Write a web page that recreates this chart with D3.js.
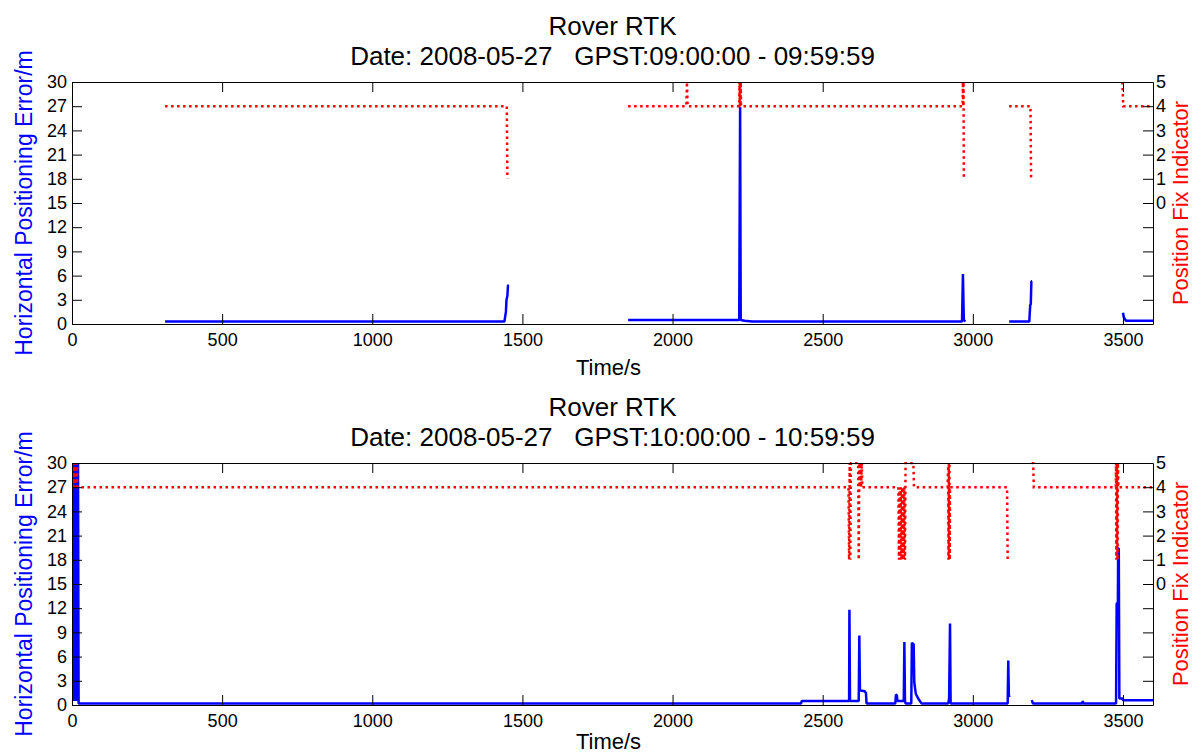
<!DOCTYPE html>
<html>
<head>
<meta charset="utf-8">
<script src="https://cdn.jsdelivr.net/npm/d3@7/dist/d3.min.js"></script>
<style>
    body { margin: 0; background: #fff; }
    svg { font-family: "Liberation Sans", Arial, sans-serif; }
    .axis path, .axis line { stroke: #000; stroke-width: 1; }
    .axis text { fill: #000; font-size: 18px; }
</style>
</head>
<body>
<svg id="chart" width="1192" height="755"></svg>
<script>
// DATA
var xTicks = [0, 500, 1000, 1500, 2000, 2500, 3000, 3500];
var errorTicks = [0, 3, 6, 9, 12, 15, 18, 21, 24, 27, 30];
var fixTicks = [-5, -4, -3, -2, -1, 0, 1, 2, 3, 4, 5];

var panelTitles = [
    "Date: 2008-05-27   GPST:09:00:00 - 09:59:59",
    "Date: 2008-05-27   GPST:10:00:00 - 10:59:59"
];

// 09:00 - 09:59, null = no data
var hour9ErrorTime  = [310, 1440, 1445, 1447, 1450, 1452, 1454, 1455, 1852, 2222, 2225, 2227, 2240, 2265, 2964, 2967, 2970, 2975, 2976, 3121, 3188, 3191, 3193, 3195, 3197, 3198, 3500, 3503, 3510, 3600];
var hour9ErrorValue = [0.3, 0.3, 1.5, 3.0, 3.5, 4.8, 4.8, null, 0.5, 0.5, 26.9, 0.5, 0.4, 0.3, 0.3, 6.2, 0.5, 0.3, null, 0.3, 0.3, 2.3, 2.5, 5.3, 5.3, null, 1.4, 0.8, 0.4, 0.4];
var hour9FixTime  = [310, 1448, 1450, 1451, 1852, 2046, 2048, 2050, 2222, 2223, 2224, 2225, 2226, 2227, 2228, 2966, 2967, 2968, 2969, 2970, 2971, 3121, 3192, 3194, 3195, 3498, 3501, 3600];
var hour9FixValue = [4, 4, 1, null, 4, 4, 5, 4, 4, 5, 4, 5, 4, 5, 4, 4, 5, 4, 5, 1, null, 4, 4, 1, null, 5, 4, 4];

// 10:00 - 10:59
var hour10ErrorTime  = [0, 2, 4, 6, 8, 10, 12, 14, 16, 18, 20, 22, 2428, 2430, 2588, 2589, 2591, 2620, 2622, 2624, 2626, 2640, 2644, 2646, 2742, 2744, 2747, 2749, 2770, 2772, 2774, 2776, 2795, 2797, 2803, 2805, 2810, 2818, 2829, 2918, 2921, 2924, 2926, 3116, 3118, 3120, 3124, 3125, 3196, 3200, 3364, 3366, 3368, 3477, 3479, 3483, 3484, 3486, 3488, 3498, 3500, 3600];
var hour10ErrorValue = [30, 0.5, 30, 0.5, 30, 0.5, 30, 0.5, 30, 0.5, 30, 0.2, 0.2, 0.5, 0.5, 11.8, 0.5, 0.5, 8.6, 2.0, 1.8, 1.7, 1.5, 0.2, 0.2, 1.3, 1.2, 0.5, 0.5, 7.8, 0.5, 0.2, 0.2, 7.7, 7.5, 2.8, 1.4, 0.8, 0.2, 0.2, 0.8, 10.1, 0.2, 0.2, 5.5, 1.1, 1.2, null, 0.6, 0.2, 0.2, 0.5, 0.2, 0.2, 12.6, 12.6, 19.4, 19.4, 0.8, 0.8, 0.6, 0.6];
var hour10FixTime  = [0, 2, 4, 6, 8, 10, 12, 14, 16, 18, 20, 2586, 2588, 2590, 2592, 2594, 2618, 2620, 2622, 2624, 2626, 2628, 2630, 2632, 2752, 2754, 2756, 2758, 2760, 2762, 2764, 2766, 2768, 2770, 2772, 2774, 2776, 2802, 2804, 2916, 2918, 2919, 2920, 2921, 2922, 2923, 2924, 3114, 3116, 3117, 3196, 3201, 3203, 3476, 3477, 3478, 3479, 3480, 3481, 3482, 3483, 3485, 3600];
var hour10FixValue = [5, 4, 5, 4, 5, 4, 5, 4, 5, 4, 4, 4, 1, 5, 1, 5, 5, 1, 5, 4, 5, 4, 5, 4, 4, 1, 4, 1, 4, 1, 4, 1, 4, 1, 4, 1, 5, 5, 4, 4, 5, 1, 5, 1, 5, 1, 4, 4, 1, null, 5, 5, 4, 4, 5, 1, 5, 1, 5, 1, 5, 4, 4];


// LAYOUT
var _left = 72, _right = 1153;
var _plotHeight = 242;
var _tickLength = 10;
var _pageHeight = 755;

var svg = d3.select("#chart");

var drawPanel = function(top, index, subtitle, errTime, errValue, fixTime, fixValue) {
    var bottom = top + _plotHeight;

    var x = d3.scaleLinear().domain([0, 3600]).range([_left, _right]);
    var yErr = d3.scaleLinear().domain([0, 30]).range([bottom, top]);
    var yFix = d3.scaleLinear().domain([-5, 5]).range([bottom, top]);

    var g = svg.append("g").classed("panel", true);

    g.append("rect")
        .attr("x", _left).attr("y", top)
        .attr("width", _right - _left).attr("height", _plotHeight)
        .attr("fill", "#fff");

    // clip the series to the box
    var clipId = "clip" + index;
    g.append("clipPath").attr("id", clipId)
        .append("rect")
        .attr("x", _left).attr("y", top - 1)
        .attr("width", _right - _left).attr("height", _plotHeight + 2);

    var errLine = d3.line()
        .defined(function(d) { return d[1] !== null; })
        .x(function(d) { return x(d[0]); })
        .y(function(d) { return yErr(d[1]); });

    var fixLine = d3.line()
        .defined(function(d) { return d[1] !== null; })
        .x(function(d) { return x(d[0]); })
        .y(function(d) { return yFix(d[1]); });

    var series = g.append("g").attr("clip-path", "url(#" + clipId + ")");

    series.append("path")
        .attr("d", errLine(d3.zip(errTime, errValue)))
        .attr("fill", "none")
        .attr("stroke", "#0000ff")
        .attr("stroke-width", 2.5)
        .attr("stroke-linejoin", "bevel");

    series.append("path")
        .attr("d", fixLine(d3.zip(fixTime, fixValue)))
        .attr("fill", "none")
        .attr("stroke", "#ff0000")
        .attr("stroke-width", 2.5)
        .attr("stroke-dasharray", "2.5,3.5");

    // axes
    g.append("g").classed("axis", true)
        .attr("transform", "translate(0," + bottom + ")")
        .call(d3.axisBottom(x).tickValues(xTicks).tickSize(-_tickLength).tickSizeOuter(0).tickPadding(9)
            .tickFormat(d3.format("d")));

    g.append("g").classed("axis", true)
        .attr("transform", "translate(0," + top + ")")
        .call(d3.axisTop(x).tickValues(xTicks).tickSize(-_tickLength).tickSizeOuter(0).tickFormat(""));

    g.append("g").classed("axis", true)
        .attr("transform", "translate(" + _left + ",0)")
        .call(d3.axisLeft(yErr).tickValues(errorTicks).tickSize(-_tickLength).tickSizeOuter(0).tickPadding(5));

    g.append("g").classed("axis", true)
        .attr("transform", "translate(" + _right + ",0)")
        .call(d3.axisRight(yFix).tickValues(fixTicks).tickSize(-_tickLength).tickSizeOuter(0).tickPadding(3)
            .tickFormat(function(d) { return d >= 0 ? d : ""; }));

    // titles and labels
    var midX = (_left + _right) / 2;
    var midY = (top + bottom) / 2;

    g.append("text")
        .attr("x", midX).attr("y", top - 47)
        .attr("text-anchor", "middle")
        .style("font-size", "26px")
        .text("Rover RTK");

    g.append("text")
        .attr("x", midX).attr("y", top - 17)
        .attr("text-anchor", "middle")
        .style("font-size", "26px")
        .style("white-space", "pre")
        .text(subtitle);

    g.append("text")
        .attr("x", midX - 4).attr("y", Math.min(bottom + 51, _pageHeight - 6))
        .attr("text-anchor", "middle")
        .style("font-size", "22px")
        .text("Time/s");

    g.append("text")
        .attr("transform", "translate(32," + midY + ") rotate(-90)")
        .attr("text-anchor", "middle")
        .attr("fill", "#0000ff")
        .style("font-size", "23px")
        .text("Horizontal Positioning Error/m");

    g.append("text")
        .attr("transform", "translate(1188," + midY + ") rotate(-90)")
        .attr("text-anchor", "middle")
        .attr("fill", "#ff0000")
        .style("font-size", "22px")
        .text("Position Fix Indicator");
};

drawPanel(82, 0, panelTitles[0], hour9ErrorTime, hour9ErrorValue, hour9FixTime, hour9FixValue);
drawPanel(463, 1, panelTitles[1], hour10ErrorTime, hour10ErrorValue, hour10FixTime, hour10FixValue);
</script>
</body>
</html>
